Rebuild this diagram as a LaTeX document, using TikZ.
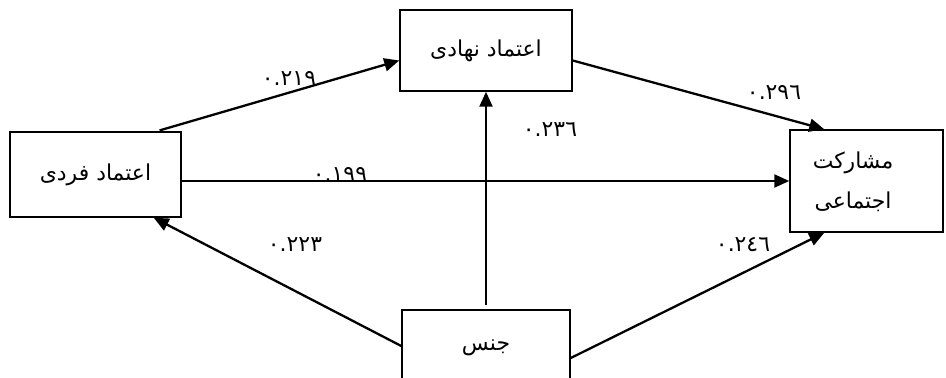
\documentclass[tikz,border=0pt]{standalone}
\usepackage{fontspec}
\newfontfamily\arabicfont[Script=Arabic]{DejaVu Sans}
\TeXXeTstate=1
\usetikzlibrary{arrows.meta}

\begin{document}
\begin{tikzpicture}[>={Triangle[length=15bp,width=13bp]},line width=2.3bp,
  box/.style={draw,line width=1.5bp,inner sep=0pt,font=\arabicfont\fontsize{22}{26}\selectfont},
  coef/.style={font=\arabicfont\fontsize{22}{26}\selectfont}]
\useasboundingbox (0bp,0bp) rectangle (946bp,378bp);
%%
\node (fardi) at (95.5bp,203.5bp) [box,minimum width=171bp,minimum height=85bp] {\beginR اعتماد فردی\endR};
  \node (nahadi) at (486bp,327.5bp) [box,minimum width=172bp,minimum height=81bp] {\beginR اعتماد نهادی\endR};
  \node (moshar) at (866.5bp,197bp) [box,minimum width=153bp,minimum height=102bp] {};
  \node (moshartext) at (853bp,196bp) [box,draw=none,align=center] {\beginR مشارکت\endR\\[14bp]\beginR اجتماعی\endR};
  \node (jens) at (486bp,30bp) [box,minimum width=168bp,minimum height=76bp] {\beginR جنس\endR};
%
  \draw [->,shorten <=3bp] ([xshift=-25bp]fardi.north east) -- ([yshift=-10bp]nahadi.west);
  \draw [->] ([yshift=-10bp]nahadi.east) -- ([xshift=35bp]moshar.north west);
  \draw [->] (fardi.east |- moshar.west) -- (moshar.west);
  \draw [->] ([yshift=2bp]jens.west) -- ([xshift=-28bp]fardi.south east);
  \draw [->] ([yshift=-10bp]jens.east) -- ([xshift=35bp]moshar.south west);
  \draw [->,shorten <=4bp] (jens.north) -- (nahadi.south);
%
  \node (c_fn) at (289bp,300bp) [coef] {٠.٢١٩};
  \node (c_fm) at (340bp,204bp) [coef] {٠.١٩٩};
  \node (c_nm) at (774bp,286bp) [coef] {٠.٢٩٦};
  \node (c_jn) at (550bp,248bp) [coef] {٠.٢٣٦};
  \node (c_jf) at (295bp,133bp) [coef] {٠.٢٢٣};
  \node (c_jm) at (743bp,133bp) [coef] {٠.٢٤٦};
%
\end{tikzpicture}
\end{document}
